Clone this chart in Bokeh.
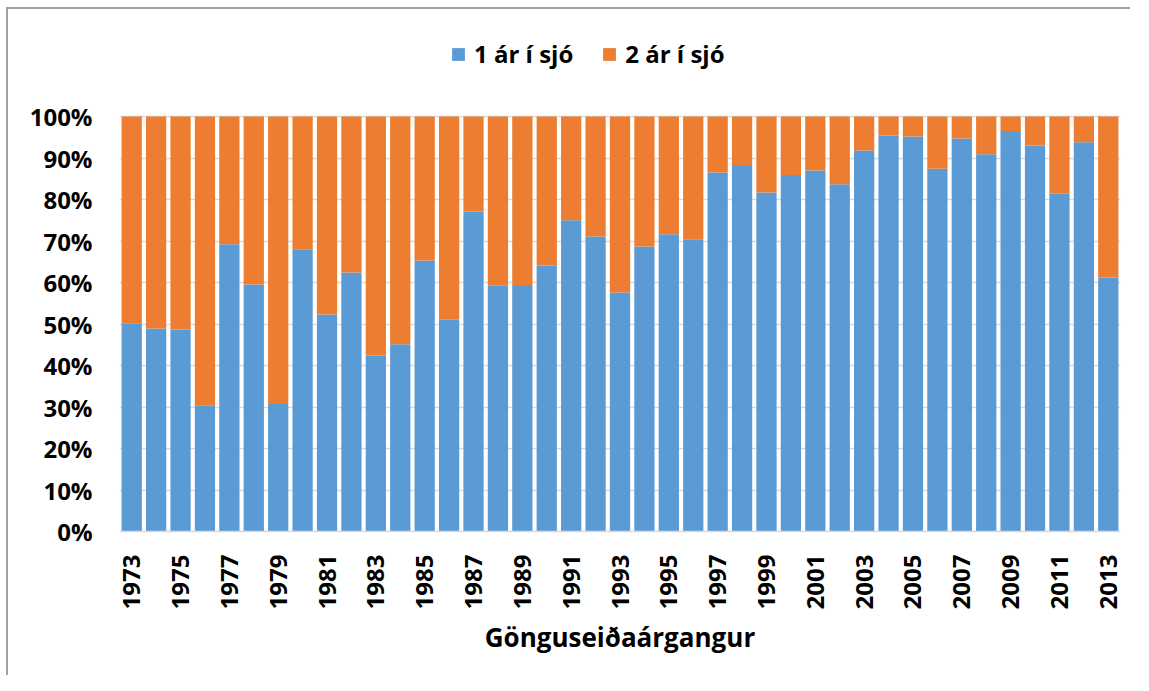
from bokeh.plotting import figure
from bokeh.models import ColumnDataSource, FixedTicker, PrintfTickFormatter, Legend, LegendItem, Range1d
from bokeh.embed import file_html
from bokeh.resources import INLINE
import math

years = list(range(1973, 2014))
one_year = [50.2, 48.9, 48.7, 30.4, 69.2, 59.5, 30.7, 68.0, 52.3, 62.4,
            42.4, 45.1, 65.3, 51.0, 77.1, 59.2, 59.4, 64.1, 75.0, 71.1,
            57.6, 68.7, 71.6, 70.4, 86.5, 88.3, 81.7, 85.9, 87.0, 83.7,
            91.8, 95.4, 95.2, 87.4, 94.7, 90.9, 96.5, 93.0, 81.4, 93.8,
            61.2]
two_year = [49.8, 51.1, 51.3, 69.6, 30.8, 40.5, 69.3, 32.0, 47.7, 37.6,
            57.6, 54.9, 34.7, 49.0, 22.9, 40.8, 40.6, 35.9, 25.0, 28.9,
            42.4, 31.3, 28.4, 29.6, 13.5, 11.7, 18.3, 14.1, 13.0, 16.3,
            8.2, 4.6, 4.8, 12.6, 5.3, 9.1, 3.5, 7.0, 18.6, 6.2,
            38.8]
series_names = ["1 ár í sjó", "2 ár í sjó"]
colors = ["#5B9BD5", "#ED7D31"]
x_ticks = list(range(1973, 2014, 2))
y_ticks = list(range(0, 101, 10))
x_title = "Gönguseiðaárgangur"

FONT = "Open Sans"

# frame extends 90px above the 100% line to host the legend (415px = 100%)
y_top = 100 + 90 / 4.15

source = ColumnDataSource(dict(year=years, s1=one_year, s2=two_year))

p = figure(width=1124, height=668, output_backend="svg", toolbar_location=None,
           x_range=Range1d(1972.5, 2013.5), y_range=Range1d(0, y_top),
           min_border_left=111, min_border_right=12, min_border_top=17,
           min_border_bottom=146,
           styles={"border-left": "2px solid #a0a0a0", "border-top": "2px solid #a0a0a0",
                   "margin-left": "6px", "margin-top": "7px"})
p.outline_line_color = None

renderers = p.vbar_stack(["s1", "s2"], x="year", width=0.83, source=source,
                         color=colors, line_color=None)

p.xgrid.grid_line_color = None
p.ygrid.grid_line_color = "#D9D9D9"
p.ygrid.grid_line_width = 1.5
p.ygrid.ticker = FixedTicker(ticks=y_ticks)

p.yaxis.ticker = FixedTicker(ticks=y_ticks)
p.yaxis.formatter = PrintfTickFormatter(format="%d%%")
p.yaxis.axis_line_color = None
p.yaxis.major_tick_line_color = None
p.yaxis.minor_tick_line_color = None
p.yaxis.major_label_standoff = 21
p.yaxis.major_label_text_font = FONT
p.yaxis.major_label_text_font_style = "bold"
p.yaxis.major_label_text_font_size = "24px"
p.yaxis.major_label_text_color = "#000000"

p.xaxis.ticker = FixedTicker(ticks=x_ticks)
p.xaxis.major_label_orientation = math.pi / 2
p.xaxis.axis_line_color = "#D9D9D9"
p.xaxis.axis_line_width = 1.5
p.xaxis.major_tick_line_color = None
p.xaxis.minor_tick_line_color = None
p.xaxis.major_label_standoff = 17
p.xaxis.major_label_text_font = FONT
p.xaxis.major_label_text_font_style = "bold"
p.xaxis.major_label_text_font_size = "24px"
p.xaxis.major_label_text_color = "#000000"
p.xaxis.axis_label = x_title
p.xaxis.axis_label_standoff = 7
p.xaxis.axis_label_text_font = FONT
p.xaxis.axis_label_text_font_style = "bold"
p.xaxis.axis_label_text_font_size = "26px"
p.xaxis.axis_label_text_color = "#000000"

legend = Legend(items=[LegendItem(label=series_names[i], renderers=[renderers[i]]) for i in range(2)],
                orientation="horizontal", location=(331, 461),
                padding=0, margin=0, spacing=28, label_standoff=8,
                glyph_width=16, glyph_height=16,
                border_line_color=None, background_fill_alpha=0,
                label_text_font=FONT, label_text_font_style="bold",
                label_text_font_size="24px", label_text_color="#000000")
p.add_layout(legend, "center")

open("out.html", "w").write(file_html(p, INLINE))
